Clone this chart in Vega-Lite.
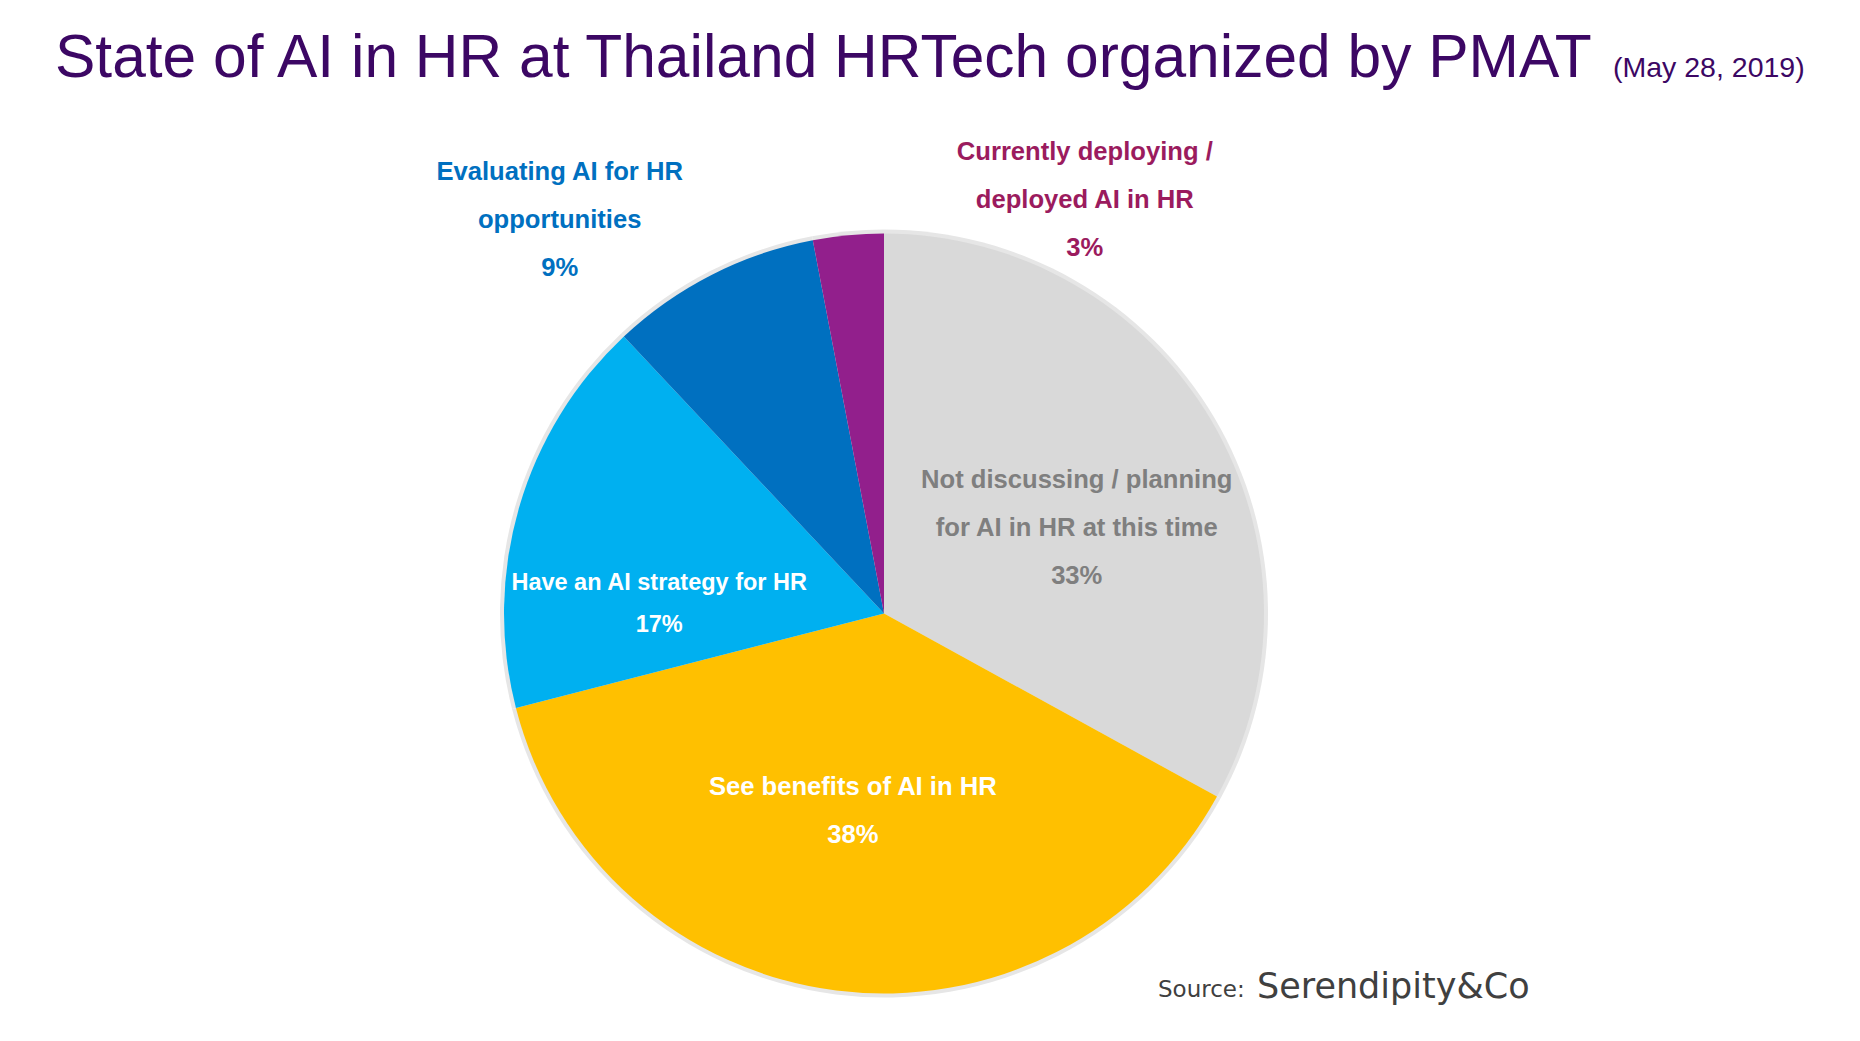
{
  "$schema": "https://vega.github.io/schema/vega-lite/v6.json",
  "background": "white",
  "padding": {"top": 29, "left": 0, "right": 0, "bottom": 0},
  "title": {
    "text": "State of AI in HR at Thailand HRTech organized by PMAT",
    "subtitle": "\u200B\u2003\u2003\u2003\u2003\u2003\u2003\u2003\u2003\u2003\u2003\u2003\u2003\u2003\u2003\u2003\u2003\u2003\u2003\u2003\u2003\u2003\u2003\u2003\u2003\u2003\u2003\u2003\u2003\u2003\u2003\u2003\u2003\u2003\u2003\u2003\u2003\u2003\u2003\u2003\u2003\u2003\u2003\u2003\u2003\u2003\u2003\u2003\u2003\u2003\u2003\u2003\u2003\u2003\u2003\u2002\u2006(May 28, 2019)",
    "anchor": "start",
    "frame": "group",
    "dx": 55,
    "offset": 50,
    "font": "Liberation Sans",
    "fontSize": 60.5,
    "fontWeight": "normal",
    "color": "#3C0764",
    "subtitleFont": "Liberation Sans",
    "subtitleFontSize": 28.5,
    "subtitleColor": "#3C0764",
    "subtitlePadding": -36
  },
  "datasets": {
    "shares": [
      {"status": "Not discussing / planning|for AI in HR at this time", "share": 33, "rank": 1},
      {"status": "See benefits of AI in HR", "share": 38, "rank": 2},
      {"status": "Have an AI strategy for HR", "share": 17, "rank": 3},
      {"status": "Evaluating AI for HR|opportunities", "share": 9, "rank": 4},
      {"status": "Currently deploying /|deployed AI in HR", "share": 3, "rank": 5}
    ]
  },
  "vconcat": [
    {
      "width": 1768,
      "height": 625,
      "title": {
        "text": "\u200B\u2003\u2003\u2002\u2004Serendipity&Co",
        "subtitle": "Source:",
        "orient": "bottom",
        "anchor": "start",
        "frame": "group",
        "dx": 1158,
        "offset": -28,
        "font": "DejaVu Sans",
        "fontSize": 35,
        "fontWeight": "normal",
        "color": "#404040",
        "subtitleFont": "DejaVu Sans",
        "subtitleFontSize": 23,
        "subtitleColor": "#404040",
        "subtitlePadding": -26
      },
      "data": {"name": "shares"},
      "transform": [
        {"calculate": "datum.status + '|' + datum.share + '%'", "as": "label"}
      ],
      "encoding": {
        "theta": {"field": "share", "type": "quantitative", "stack": true},
        "order": {"field": "rank", "type": "quantitative"}
      },
      "layer": [
        {
          "mark": {"type": "arc", "outerRadius": 384, "color": "#E6E6E6"}
        },
        {
          "mark": {"type": "arc", "outerRadius": 380},
          "encoding": {
            "color": {
              "field": "status",
              "type": "nominal",
              "legend": null,
              "scale": {
                "domain": [
                  "Not discussing / planning|for AI in HR at this time",
                  "See benefits of AI in HR",
                  "Have an AI strategy for HR",
                  "Evaluating AI for HR|opportunities",
                  "Currently deploying /|deployed AI in HR"
                ],
                "range": ["#D9D9D9", "#FFC000", "#00B0F0", "#0070C0", "#921F8C"]
              }
            }
          }
        },
        {
          "mark": {
            "type": "text",
            "font": "Liberation Sans",
            "fontSize": {"expr": "datum.rank == 3 ? 23.5 : 25.6"},
            "fontWeight": "bold",
            "lineBreak": "|",
            "lineHeight": {"expr": "datum.rank == 3 ? 42 : 48"},
            "align": "center",
            "baseline": "middle",
            "dy": {"expr": "datum.rank == 3 ? -21 : datum.rank == 2 ? -24 : -48"},
            "radius": {"expr": "[211, 200, 225, 510, 460][datum.rank - 1]"},
            "thetaOffset": {"expr": "[0.115, 0.031, -0.241, -0.218, 0.546][datum.rank - 1]"}
          },
          "encoding": {
            "text": {"field": "label", "type": "nominal"},
            "color": {
              "condition": [
                {"test": "datum.rank == 1", "value": "#7F7F7F"},
                {"test": "datum.rank == 4", "value": "#0070C0"},
                {"test": "datum.rank == 5", "value": "#9B1B5E"}
              ],
              "value": "white"
            }
          }
        }
      ]
    }
  ],
  "config": {
    "view": {"stroke": null},
    "concat": {"spacing": 0}
  }
}
